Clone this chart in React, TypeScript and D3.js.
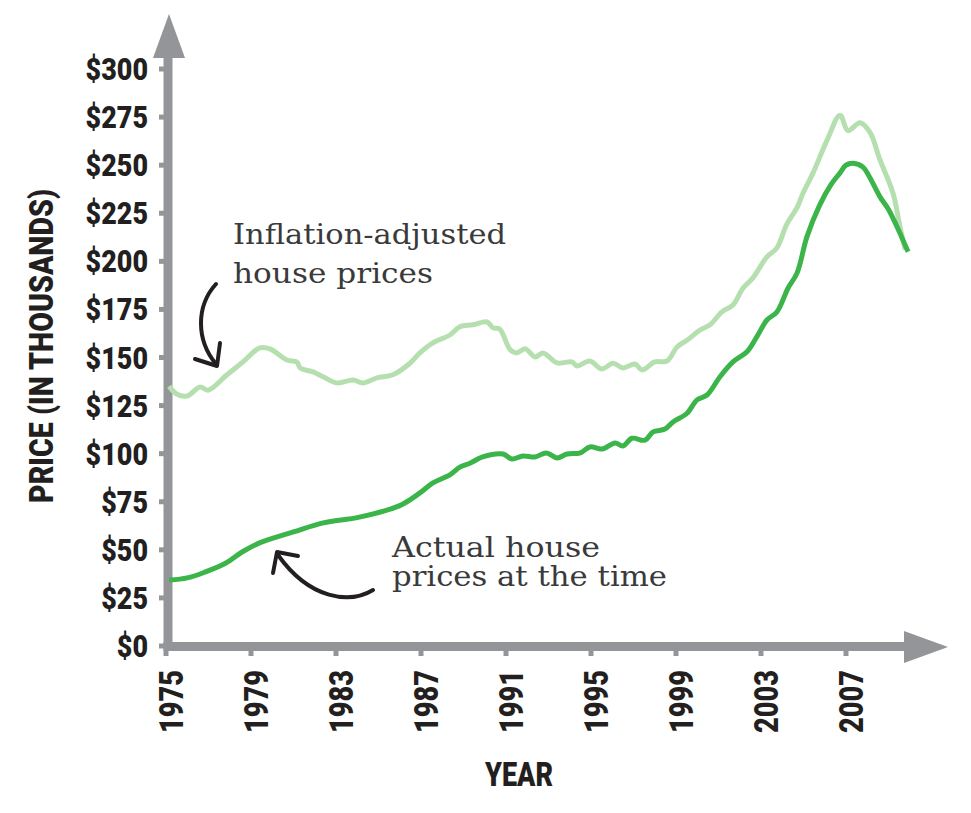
import React, { useEffect, useRef } from "react";
import * as d3 from "d3";

// actual house prices (thousands of dollars)
const actualYears = [1975.15, 1976.0, 1976.85, 1977.8, 1978.6, 1979.4, 1981.0, 1982.4, 1984.1, 1986.0, 1986.95, 1987.56, 1988.36, 1988.83, 1989.3, 1989.9, 1990.86, 1991.28, 1991.8, 1992.37, 1992.9, 1993.4, 1993.87, 1994.5, 1994.95, 1995.52, 1996.13, 1996.5, 1996.93, 1997.54, 1997.92, 1998.48, 1998.86, 1999.52, 1999.99, 2000.46, 2001.07, 2001.68, 2002.34, 2002.8, 2003.28, 2003.75, 2004.27, 2004.7, 2005.16, 2005.75, 2006.3, 2006.72, 2007.0, 2007.33, 2007.8, 2008.1, 2008.6, 2009.0, 2009.4, 2009.92];
const actualPrices = [34.3, 35.4, 38.5, 43, 49, 53.6, 59.3, 64, 67, 73, 79.6, 84.8, 89, 93, 95, 98.3, 99.8, 97.2, 98.8, 98.3, 100.4, 97.8, 99.8, 100.4, 103.5, 102.4, 105.6, 104, 108, 107, 111.3, 112.8, 116.5, 121, 128, 130.5, 140, 147.7, 153, 160.7, 169.5, 173.7, 186, 194, 212.7, 229, 240, 246, 250, 251, 249, 244, 233.5, 227, 218, 205];

// inflation-adjusted house prices (thousands of dollars)
const adjustedYears = [1975.15, 1975.5, 1975.99, 1976.6, 1976.98, 1977.87, 1978.62, 1979.42, 1979.89, 1980.69, 1981.16, 1981.31, 1981.92, 1982.39, 1983.05, 1983.8, 1984.27, 1984.93, 1985.68, 1986.48, 1986.95, 1987.56, 1988.36, 1988.83, 1989.45, 1990.1, 1990.4, 1990.7, 1991.2, 1991.5, 1991.9, 1992.37, 1992.74, 1993.4, 1994.1, 1994.34, 1994.95, 1995.5, 1996.04, 1996.5, 1997.07, 1997.4, 1998.0, 1998.58, 1999.05, 1999.52, 2000.13, 2000.6, 2001.16, 2001.68, 2002.15, 2002.62, 2003.28, 2003.75, 2004.2, 2004.7, 2004.98, 2005.45, 2006.11, 2006.72, 2007.09, 2007.66, 2008.13, 2008.6, 2009.21, 2009.54, 2009.78];
const adjustedPrices = [135, 131, 130, 134.7, 133, 141, 147.7, 155, 154.5, 148.7, 147.7, 144.6, 142.5, 140, 136.8, 138.3, 136.8, 139.4, 141, 147, 152.4, 157.6, 161.7, 166, 167, 168.5, 165.4, 164.8, 154, 152.4, 154.5, 150.3, 152.4, 147.2, 147.7, 145.6, 148.2, 144, 147, 144.6, 146.6, 143.5, 147.7, 148.2, 155.5, 159, 164.3, 167, 173.7, 177.3, 186, 191.4, 202.3, 207, 219, 228, 235.5, 246, 263, 276, 268, 272, 267, 252.7, 235.5, 218, 206];

const priceTicks = [0, 25, 50, 75, 100, 125, 150, 175, 200, 225, 250, 275, 300];
const yearTicks = [1975, 1979, 1983, 1987, 1991, 1995, 1999, 2003, 2007];

const width = 971;
const height = 813;
const axisGray = "#939598";
const ink = "#231f20";
const heavy = "Roboto, 'DejaVu Sans', sans-serif";
const serif = "'DejaVu Serif', 'Liberation Serif', serif";

const App = () => {
  const ref = useRef(null);

  useEffect(() => {
    const x = d3.scaleLinear().domain([1975, 2007]).range([166, 846]);
    const y = d3.scaleLinear().domain([0, 300]).range([646, 69]);

    const g = d3.select(ref.current);
    g.selectAll("*").remove();

    // axes bars and arrow heads
    g.append("rect").attr("x", 163.5).attr("y", 55).attr("width", 9).attr("height", 596).attr("fill", axisGray);
    g.append("path").attr("d", "M153,58 L185,58 L169,14 Z").attr("fill", axisGray);
    g.append("rect").attr("x", 163.5).attr("y", 642).attr("width", 744).attr("height", 9).attr("fill", axisGray);
    g.append("path").attr("d", "M904,631 L904,663 L948,647 Z").attr("fill", axisGray);

    // y ticks + labels
    const yt = g.append("g");
    priceTicks.forEach(v => {
      yt.append("rect").attr("x", 159).attr("y", y(v) - 2.5).attr("width", 5).attr("height", 5).attr("fill", axisGray);
      const label = "$" + v;
      yt.append("text")
        .attr("x", 148).attr("y", y(v) + 11)
        .attr("text-anchor", "end")
        .attr("font-family", heavy).attr("font-weight", 900).attr("font-size", 31)
        .attr("textLength", label.length * 15.6).attr("lengthAdjust", "spacingAndGlyphs")
        .attr("fill", ink)
        .text(label);
    });

    // x ticks + labels
    const xt = g.append("g");
    yearTicks.forEach(t => {
      xt.append("rect").attr("x", x(t) - 2.5).attr("y", 650).attr("width", 5).attr("height", 6).attr("fill", axisGray);
      xt.append("text")
        .attr("transform", `translate(${x(t) + 17},670) rotate(-90)`)
        .attr("text-anchor", "end")
        .attr("font-family", heavy).attr("font-weight", 900).attr("font-size", 33)
        .attr("textLength", 63).attr("lengthAdjust", "spacingAndGlyphs")
        .attr("fill", ink)
        .text(String(t));
    });

    // axis titles
    g.append("text")
      .attr("transform", "translate(53,346) rotate(-90)")
      .attr("text-anchor", "middle")
      .attr("font-family", heavy).attr("font-weight", 900).attr("font-size", 33)
      .attr("textLength", 314).attr("lengthAdjust", "spacingAndGlyphs")
      .attr("fill", ink)
      .text("PRICE (IN THOUSANDS)");
    g.append("text")
      .attr("x", 519).attr("y", 786)
      .attr("text-anchor", "middle")
      .attr("font-family", heavy).attr("font-weight", 900).attr("font-size", 33)
      .attr("textLength", 68).attr("lengthAdjust", "spacingAndGlyphs")
      .attr("fill", ink)
      .text("YEAR");

    // lines
    const line = d3.line()
      .x(d => x(d[0]))
      .y(d => y(d[1]))
      .curve(d3.curveCatmullRom.alpha(0.5));

    const adjusted = adjustedYears.map((yr, i) => [yr, adjustedPrices[i]]);
    const actual = actualYears.map((yr, i) => [yr, actualPrices[i]]);

    g.append("path")
      .attr("d", line(adjusted))
      .attr("fill", "none")
      .attr("stroke", "#b6dfb0")
      .attr("stroke-width", 5)
      .attr("stroke-linejoin", "round");
    g.append("path")
      .attr("d", line(actual))
      .attr("fill", "none")
      .attr("stroke", "#3bb54a")
      .attr("stroke-width", 5)
      .attr("stroke-linejoin", "round");

    // annotations
    const note = (tx, ty, s, len) =>
      g.append("text")
        .attr("x", tx).attr("y", ty)
        .attr("font-family", serif).attr("font-size", 27)
        .attr("textLength", len).attr("lengthAdjust", "spacingAndGlyphs")
        .attr("fill", "#3a3a3a")
        .attr("font-weight", 300)
        .text(s);
    note(233, 244, "Inflation-adjusted", 273);
    note(233, 283, "house prices", 200);
    note(392, 557, "Actual house", 208);
    note(392, 586, "prices at the time", 275);

    const arrow = d =>
      g.append("path").attr("d", d).attr("fill", "none").attr("stroke", ink)
        .attr("stroke-width", 4).attr("stroke-linecap", "round").attr("stroke-linejoin", "round");
    arrow("M216,284 C196,306 196,340 216,364");
    arrow("M195,359 L217,366 L220,343");
    arrow("M373,590 C350,604 310,600 278,555");
    arrow("M273,573 L277,552 L298,556");
  }, []);

  return (
    <svg width={width} height={height} style={{ position: "absolute", left: 0, top: 0, background: "#fff" }}>
      <g ref={ref} />
    </svg>
  );
};

export default App;
